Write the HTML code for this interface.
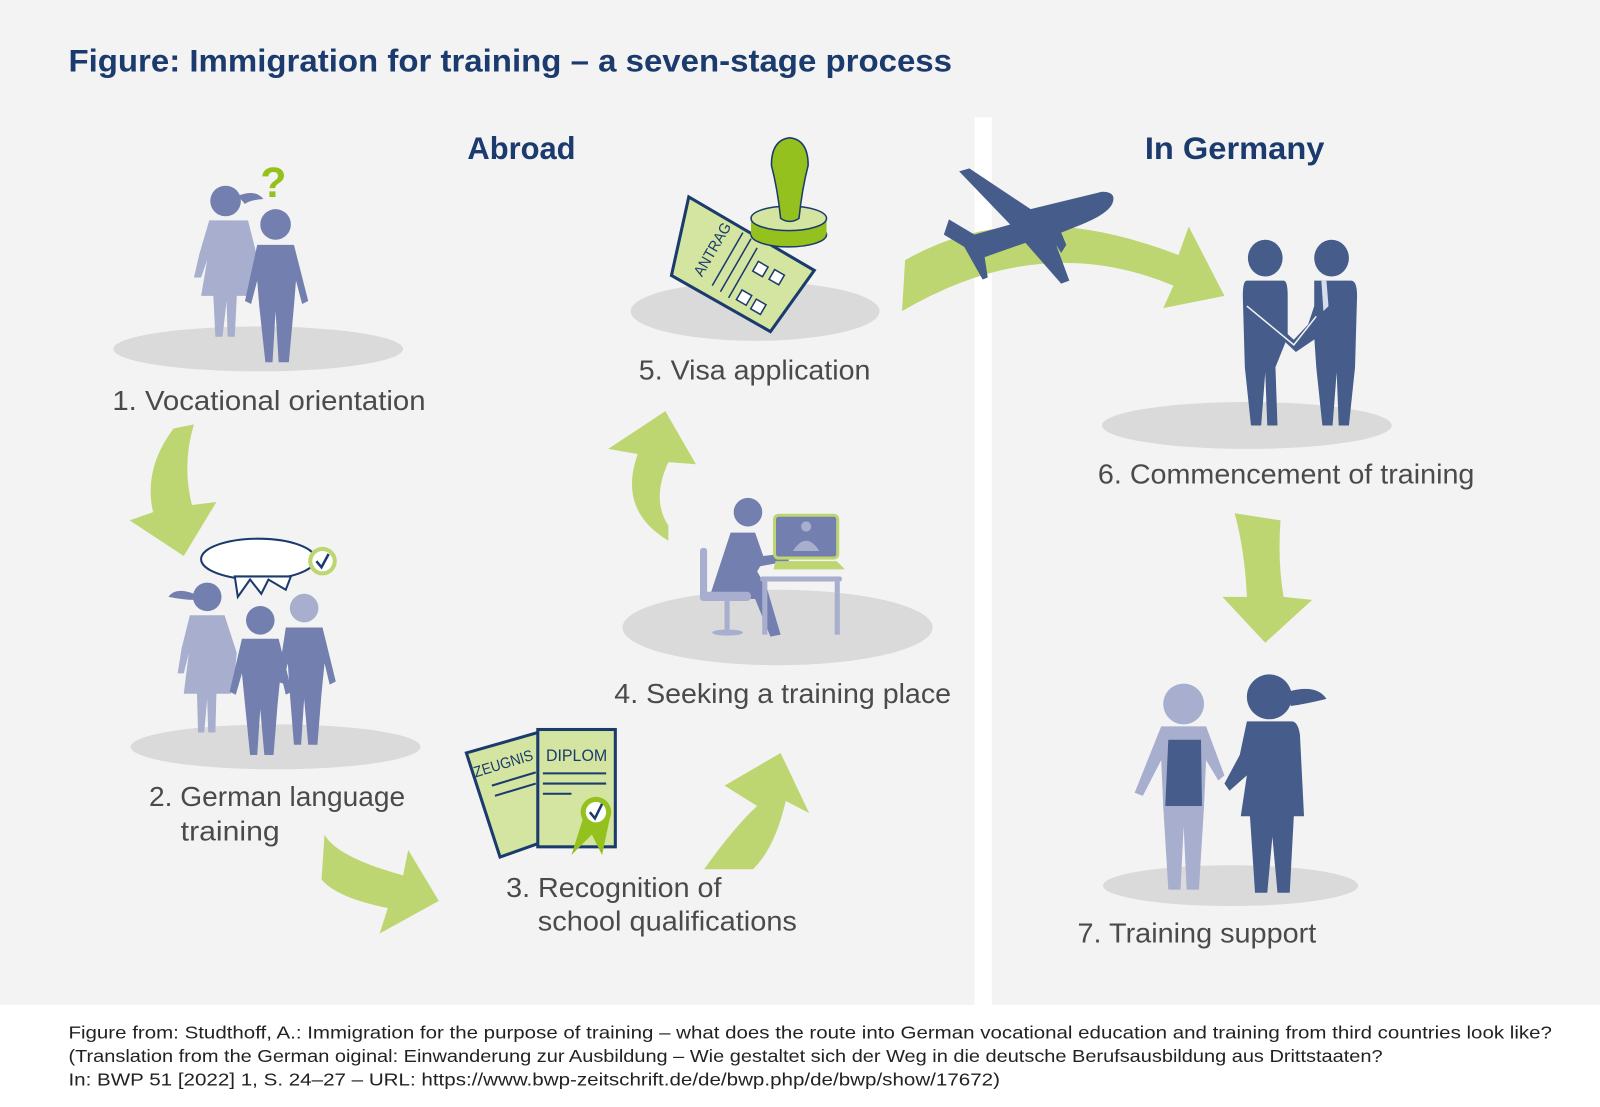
<!DOCTYPE html>
<html><head><meta charset="utf-8"><style>
html,body{margin:0;padding:0;background:#fff}
svg{display:block}
text{font-family:"Liberation Sans Narrow","Liberation Sans",sans-serif}
</style></head><body>
<svg width="1600" height="1107" viewBox="0 0 1568 1085" xmlns="http://www.w3.org/2000/svg">
<rect x="0" y="0" width="1568" height="985" fill="#f3f3f3"/>
<rect x="955" y="115" width="17" height="870" fill="#fff"/>
<text x="67" y="70" font-size="31" font-weight="bold" fill="#1b3a6d" textLength="866" lengthAdjust="spacingAndGlyphs">Figure: Immigration for training – a seven-stage process</text>
<text x="458" y="156" font-size="31" font-weight="bold" fill="#1b3a6d" textLength="106" lengthAdjust="spacingAndGlyphs">Abroad</text>
<text x="1122" y="156" font-size="31" font-weight="bold" fill="#1b3a6d" textLength="176" lengthAdjust="spacingAndGlyphs">In Germany</text>

<g fill="#dadada">
<ellipse cx="253" cy="342" rx="142" ry="22"/>
<ellipse cx="270" cy="732" rx="142" ry="22"/>
<ellipse cx="762" cy="615" rx="152" ry="37"/>
<ellipse cx="740" cy="305" rx="122" ry="29"/>
<ellipse cx="1222" cy="417" rx="142" ry="23"/>
<ellipse cx="1206" cy="868" rx="125" ry="20"/>
</g>

<g fill="#bdd672">
<path d="M170 420 L190 416 Q178 455 188 495 L212 492 L180 545 L127 510 L150 502 Q140 460 170 420Z"/>
<path d="M318 818 Q330 840 395 858 L400 833 L430 883 L372 915 L380 890 Q330 880 315 862Z"/>
<path d="M690 852 Q720 810 742 790 L710 770 L765 738 L793 797 L770 785 Q760 830 738 852Z"/>
<path d="M655 530 Q605 500 625 445 L596 440 L652 403 L682 455 L655 453 Q638 490 655 515Z"/>
<path d="M884 305 L887 255 Q1000 190 1155 250 L1165 222 L1200 290 L1140 302 L1150 280 Q1020 225 884 305Z"/>
<path d="M1210 503 L1255 510 Q1252 550 1258 585 L1286 588 L1240 630 L1198 585 L1222 585 Q1220 540 1210 503Z"/>
</g>

<path fill="#465c8b" d="M940 168 L950 165 L1010 205 L1080 188 Q1095 188 1090 200 Q1085 210 1060 220 L1040 228 L1045 240 L1040 248 L1035 240 L1048 275 L1040 278 L1005 238 L965 252 L968 272 L963 274 L945 242 L925 230 L930 215 L955 230 L990 220 Z"/>

<g>
<circle cx="221" cy="197" r="15" fill="#737fae"/>
<path d="M233 192 Q250 185 258 195 Q245 196 240 200Z" fill="#737fae"/>
<path d="M205 216 L243 216 L254 260 L250 280 L247 290 L232 290 L230 330 L223 330 L222 295 L218 330 L211 330 L209 290 L197 290 L203 255 L197 272 L190 272 L195 250Z" fill="#a8aecd"/>
<circle cx="270" cy="220" r="15" fill="#737fae"/>
<path d="M252 240 L288 240 L302 295 L296 298 L290 275 L288 300 L283 355 L273 355 L270 305 L267 355 L260 355 L254 300 L252 275 L246 298 L240 295Z" fill="#737fae"/>
<text x="255" y="193" font-size="42" font-weight="bold" fill="#95c11f">?</text>
</g>
<text x="110" y="402" font-size="27" fill="#4a4a4a" textLength="307" lengthAdjust="spacingAndGlyphs">1. Vocational orientation</text>

<g>
<ellipse cx="253" cy="548" rx="56" ry="20" fill="#fff" stroke="#1b3a6d" stroke-width="2"/>
<path d="M230 565 L233 585 L245 568 L256 582 L263 568 L280 578 L285 565Z" fill="#fff" stroke="#1b3a6d" stroke-width="2"/>
<circle cx="316" cy="550" r="14" fill="#bdd672"/><circle cx="316" cy="550" r="10" fill="#fff"/>
<path d="M310 550 L315 556 L322 543" stroke="#1b3a6d" stroke-width="2.5" fill="none"/>
<circle cx="203" cy="585" r="14" fill="#737fae"/>
<path d="M190 582 Q172 575 165 585 Q180 588 190 588Z" fill="#737fae"/>
<path d="M186 603 L220 603 L232 640 L230 660 L226 680 L212 680 L211 718 L204 718 L203 685 L200 718 L194 718 L193 680 L180 680 L185 640 L180 660 L174 660 L178 635Z" fill="#a8aecd"/>
<circle cx="255" cy="608" r="14" fill="#737fae"/>
<path d="M237 626 L273 626 L286 678 L280 681 L275 660 L272 690 L268 740 L259 740 L255 695 L252 740 L245 740 L240 690 L237 660 L231 681 L225 678Z" fill="#737fae"/>
<circle cx="298" cy="596" r="14" fill="#a8aecd"/>
<path d="M280 615 L316 615 L329 668 L323 671 L318 650 L315 680 L311 730 L302 730 L298 685 L295 730 L288 730 L284 680 L282 650 L277 670 L272 668Z" fill="#737fae"/>
</g>
<text x="146" y="790" font-size="27" fill="#4a4a4a" textLength="251" lengthAdjust="spacingAndGlyphs">2. German language</text>
<text x="177" y="824" font-size="27" fill="#4a4a4a" textLength="97" lengthAdjust="spacingAndGlyphs">training</text>

<g>
<path d="M457 738 L527 718 L555 817 L490 840Z" fill="#d3e5a0" stroke="#1b3a6d" stroke-width="3"/>
<rect x="527" y="715" width="76" height="115" fill="#d3e5a0" stroke="#1b3a6d" stroke-width="3"/>
<text x="466" y="762" font-size="15" fill="#1b3a6d" transform="rotate(-17 466 762)" textLength="60" lengthAdjust="spacingAndGlyphs">ZEUGNIS</text>
<text x="535" y="746" font-size="16" fill="#1b3a6d" textLength="60" lengthAdjust="spacingAndGlyphs">DIPLOM</text>
<g stroke="#1b3a6d" stroke-width="2"><line x1="532" y1="758" x2="594" y2="758"/><line x1="532" y1="768" x2="594" y2="768"/><line x1="532" y1="778" x2="560" y2="778"/>
<line x1="482" y1="770" x2="525" y2="757"/><line x1="485" y1="780" x2="525" y2="768"/></g>
<path d="M572 800 L560 838 L580 818 L590 838 L598 800Z" fill="#95c11f"/>
<circle cx="584" cy="796" r="15" fill="#95c11f"/><circle cx="584" cy="796" r="10" fill="#fff"/>
<path d="M578 796 L583 802 L590 788" stroke="#1b3a6d" stroke-width="2.5" fill="none"/>
</g>
<text x="496" y="879" font-size="27" fill="#4a4a4a" textLength="211" lengthAdjust="spacingAndGlyphs">3. Recognition of</text>
<text x="527" y="912" font-size="27" fill="#4a4a4a" textLength="254" lengthAdjust="spacingAndGlyphs">school qualifications</text>

<g>
<circle cx="733" cy="502" r="14" fill="#737fae"/>
<path d="M716 522 L740 522 L748 545 L773 542 L773 550 L745 555 L742 560 L752 578 L765 622 L755 624 L740 587 L700 588 L697 580 Z" fill="#737fae"/>
<rect x="686" y="537" width="7" height="52" rx="3" fill="#a8aecd"/>
<rect x="686" y="580" width="50" height="9" rx="4" fill="#a8aecd"/>
<rect x="710" y="588" width="5" height="30" fill="#a8aecd"/>
<ellipse cx="713" cy="620" rx="15" ry="3" fill="#a8aecd"/>
<rect x="747" y="565" width="5" height="57" fill="#a8aecd"/>
<rect x="818" y="565" width="5" height="57" fill="#a8aecd"/>
<rect x="745" y="565" width="80" height="5" rx="2" fill="#a8aecd"/>
<rect x="759" y="505" width="62" height="42" rx="4" fill="#737fae" stroke="#bdd672" stroke-width="3"/>
<path d="M760 550 L820 550 L828 558 L758 558Z" fill="#bdd672"/>
<circle cx="790" cy="516" r="5" fill="#a8aecd"/><path d="M777 540 Q790 520 803 540Z" fill="#a8aecd"/>
</g>
<text x="602" y="689" font-size="27" fill="#4a4a4a" textLength="330" lengthAdjust="spacingAndGlyphs">4. Seeking a training place</text>

<g>
<path d="M675 193 L798 265 L755 325 L658 270Z" fill="#d3e5a0" stroke="#1b3a6d" stroke-width="3"/>
<text x="688" y="272" font-size="15" fill="#1b3a6d" transform="rotate(-60 688 272)" textLength="58" lengthAdjust="spacingAndGlyphs">ANTRAG</text>
<g stroke="#1b3a6d" stroke-width="1.5"><line x1="698" y1="280" x2="728" y2="228"/><line x1="706" y1="286" x2="736" y2="234"/><line x1="714" y1="292" x2="742" y2="243"/></g>
<g fill="#fff" stroke="#1b3a6d" stroke-width="1.5"><rect x="740" y="258" width="11" height="11" transform="rotate(30 745 263)"/><rect x="756" y="266" width="11" height="11" transform="rotate(30 761 271)"/><rect x="724" y="286" width="11" height="11" transform="rotate(30 729 291)"/><rect x="738" y="295" width="11" height="11" transform="rotate(30 743 300)"/></g>
<ellipse cx="773" cy="230" rx="37" ry="12" fill="#95c11f" stroke="#1b3a6d" stroke-width="1.5"/>
<rect x="736" y="214" width="74" height="16" fill="#95c11f"/>
<ellipse cx="773" cy="214" rx="37" ry="12" fill="#d3e5a0" stroke="#1b3a6d" stroke-width="1.5"/>
<path d="M765 214 Q762 185 756 162 Q756 137 774 135 Q792 137 792 162 Q786 185 783 214 Q774 220 765 214Z" fill="#95c11f" stroke="#1b3a6d" stroke-width="1.5"/>
</g>
<text x="626" y="372" font-size="27" fill="#4a4a4a" textLength="227" lengthAdjust="spacingAndGlyphs">5. Visa application</text>

<g fill="#465c8b">
<ellipse cx="1240" cy="253" rx="17" ry="18"/>
<ellipse cx="1305" cy="253" rx="17" ry="18"/>
<path d="M1222 275 L1258 275 Q1262 275 1262 290 L1262 330 L1250 360 L1252 417 L1242 417 L1240 365 L1236 417 L1226 417 L1220 360 L1218 290 Q1218 275 1222 275Z"/>
<path d="M1288 275 L1324 275 Q1330 275 1330 290 L1328 360 L1322 417 L1312 417 L1310 365 L1306 417 L1296 417 L1290 360 L1288 330 Z"/>
<path d="M1222 300 L1232 300 L1268 333 L1282 318 L1288 300 L1300 300 L1292 330 L1270 345 Z"/>
<path d="M1222 300 L1268 338 L1290 310" stroke="#f3f3f3" stroke-width="1.5" fill="none"/>
<path d="M1295 275 L1300 275 L1302 300 L1297 305 Z" fill="#d6dcef"/>
</g>
<text x="1076" y="474" font-size="27" fill="#4a4a4a" textLength="369" lengthAdjust="spacingAndGlyphs">6. Commencement of training</text>

<g>
<circle cx="1160" cy="690" r="20" fill="#a8aecd"/>
<path d="M1138 712 L1182 712 L1200 760 L1194 765 L1182 745 L1180 790 L1175 872 L1163 872 L1160 810 L1157 872 L1145 872 L1140 790 L1138 745 L1120 780 L1112 777Z" fill="#a8aecd"/>
<path d="M1145 725 L1177 725 L1178 790 L1142 790Z" fill="#465c8b"/>
<circle cx="1244" cy="683" r="22" fill="#465c8b"/>
<path d="M1262 678 Q1290 670 1300 685 Q1280 690 1265 692Z" fill="#465c8b"/>
<path d="M1222 707 L1266 707 Q1272 707 1274 720 L1278 800 L1268 800 L1264 875 L1252 875 L1247 820 L1242 875 L1230 875 L1225 800 L1216 800 L1222 760 L1205 775 L1200 768 L1215 740Z" fill="#465c8b"/>
</g>
<text x="1056" y="924" font-size="27" fill="#4a4a4a" textLength="234" lengthAdjust="spacingAndGlyphs">7. Training support</text>

<g font-size="17" fill="#222">
<text x="67" y="1018" textLength="1454" lengthAdjust="spacingAndGlyphs">Figure from: Studthoff, A.: Immigration for the purpose of training – what does the route into German vocational education and training from third countries look like?</text>
<text x="67" y="1041" textLength="1288" lengthAdjust="spacingAndGlyphs">(Translation from the German oiginal: Einwanderung zur Ausbildung – Wie gestaltet sich der Weg in die deutsche Berufsausbildung aus Drittstaaten?</text>
<text x="67" y="1064" textLength="913" lengthAdjust="spacingAndGlyphs">In: BWP 51 [2022] 1, S. 24–27 – URL: https://www.bwp-zeitschrift.de/de/bwp.php/de/bwp/show/17672)</text>
</g>
</svg>
</body></html>
